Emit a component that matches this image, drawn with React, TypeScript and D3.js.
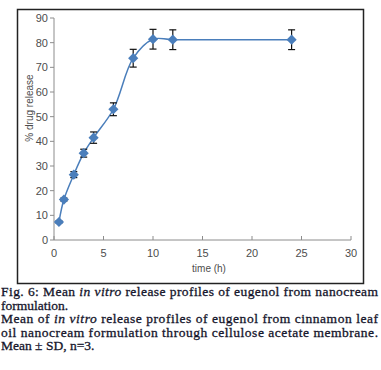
import React from 'react';
import * as d3 from 'd3';

const width = 381, height = 370;

// release data
const times = [0.5, 1, 2, 3, 4, 6, 8, 10, 12, 24];
const release = [7.3, 16.4, 26.5, 35.2, 41.5, 53.0, 73.7, 81.4, 81.2, 81.2];
const sd = [0.4, 0.6, 1.2, 1.6, 2.3, 2.6, 3.6, 4.0, 4.0, 4.0];

const xTicks = [0, 5, 10, 15, 20, 25, 30];
const yTicks = [0, 10, 20, 30, 40, 50, 60, 70, 80, 90];

const captionLines = [
    { parts: [['Fig. 6: Mean ', false], ['in vitro', true], [' release profiles of eugenol from nanocream', false]], justify: true },
    { parts: [['formulation.', false]], justify: false },
    { parts: [['Mean of ', false], ['in vitro', true], [' release profiles of eugenol from cinnamon leaf', false]], justify: true },
    { parts: [['oil nanocream formulation through cellulose acetate membrane.', false]], justify: true },
    { parts: [['Mean \u00b1 SD, n=3.', false]], justify: false },
];

const xScale = d3.scaleLinear().domain([0, 30]).range([54, 351]);
const yScale = d3.scaleLinear().domain([0, 90]).range([240, 18]);

export default function App() {
    const pts = times.map((t, i) => ({ t, v: release[i], e: sd[i] }));
    const line = d3.line<{ t: number, v: number }>()
        .x(d => xScale(d.t))
        .y(d => yScale(d.v))
        .curve(d3.curveCatmullRom.alpha(0.5));
    const diamond = d3.symbol().type(d3.symbolSquare).size(52)();
    const blue = '#4a7ebb';
    const axisCol = '#8c8c8c';
    const labelCol = '#4d4d4d';
    const sans = 'Liberation Sans, Arial, sans-serif';
    const ink = '#15152b';

    return (
        <svg width={width} height={height} style={{ position: 'absolute', left: 0, top: 0 }}
            fontFamily={sans}>
            <rect x={0} y={0} width={width} height={height} fill="#fff" />
            <rect x={17.5} y={9.5} width={346} height={274} fill="none" stroke="#222" strokeWidth={1.5} />

            {/* y axis */}
            <line x1={xScale(0)} x2={xScale(0)} y1={yScale(0)} y2={yScale(90)} stroke={axisCol} />
            {yTicks.map(t => (
                <g key={t} transform={`translate(${xScale(0)},${yScale(t)})`}>
                    <line x1={-4} x2={0} stroke={axisCol} />
                    <text x={-6} dy="0.35em" textAnchor="end" fontSize={11} fill={labelCol}>{t}</text>
                </g>
            ))}
            {/* x axis */}
            <line x1={xScale(0)} x2={xScale(30)} y1={yScale(0)} y2={yScale(0)} stroke={axisCol} />
            {xTicks.map(t => (
                <g key={t} transform={`translate(${xScale(t)},${yScale(0)})`}>
                    <line y1={-4} y2={0} stroke={axisCol} />
                    <text y={17} textAnchor="middle" fontSize={11} fill={labelCol}>{t}</text>
                </g>
            ))}
            <text x={209} y={272} textAnchor="middle" fontSize={10} fill={labelCol}>time (h)</text>
            <text transform="translate(33,108) rotate(-90)" textAnchor="middle" fontSize={10} fill={labelCol}>% drug release</text>

            <path d={line(pts) || ''} fill="none" stroke={blue} strokeWidth={1.5} />

            {pts.map((d, i) => (
                <g key={i} stroke="#111" strokeWidth={1.2}>
                    <line x1={xScale(d.t)} x2={xScale(d.t)} y1={yScale(d.v + d.e)} y2={yScale(d.v - d.e)} />
                    <line x1={xScale(d.t) - 3.5} x2={xScale(d.t) + 3.5} y1={yScale(d.v + d.e)} y2={yScale(d.v + d.e)} />
                    <line x1={xScale(d.t) - 3.5} x2={xScale(d.t) + 3.5} y1={yScale(d.v - d.e)} y2={yScale(d.v - d.e)} />
                </g>
            ))}
            {pts.map((d, i) => (
                <path key={i} d={diamond || ''} fill={blue}
                    transform={`translate(${xScale(d.t)},${yScale(d.v)}) rotate(45)`} />
            ))}

            {captionLines.map((ln, i) => (
                <text key={i} x={1} y={296 + i * 13.6} fontSize={13.5}
                    fontFamily="'Liberation Serif', serif" fill={ink} stroke={ink} strokeWidth={0.3}
                    textLength={ln.justify ? 377 : undefined}
                    lengthAdjust={ln.justify ? 'spacing' : undefined}>
                    {ln.parts.map((p, j) => (
                        <tspan key={j} fontStyle={p[1] ? 'italic' : 'normal'}>{p[0] as string}</tspan>
                    ))}
                </text>
            ))}
        </svg>
    );
}
